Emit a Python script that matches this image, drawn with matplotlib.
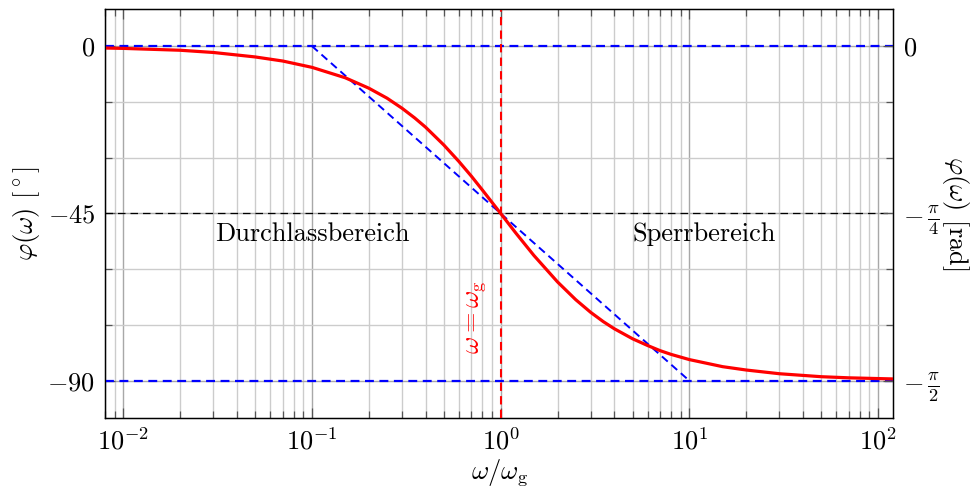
import numpy as np
import matplotlib
matplotlib.use('Agg')
import matplotlib.pyplot as plt
from matplotlib.ticker import LogLocator, NullFormatter, FixedLocator


# Phasengang
omega = [0.008, 0.01, 0.02, 0.03, 0.05, 0.07, 0.1, 0.15, 0.2, 0.25, 0.3, 0.35, 0.4, 0.5, 0.6, 0.7, 0.8,
		 1.0, 1.2, 1.5, 2.0, 2.5, 3.0, 3.5, 4.0, 5.0, 6.0, 7.0, 8.0, 10.0, 15.0, 20.0, 30.0, 50.0, 70.0, 100.0, 120.0]
phi_deg = [-0.5, -0.6, -1.1, -1.7, -2.9, -4.0, -5.7, -8.5, -11.3, -14.0, -16.7, -19.3, -21.8, -26.6, -31.0, -35.0, -38.7,
		   -45.0, -50.2, -56.3, -63.4, -68.2, -71.6, -74.1, -76.0, -78.7, -80.5, -81.9, -82.9, -84.3, -86.2, -87.1, -88.1, -88.9, -89.2, -89.4, -89.5]

# Asymptoten
asym_x = [0.1, 10.0]
asym_y = [0.0, -90.0]
omega_g = 1.0

# Achsenbeschriftung
left_ticks = [0, -45, -90]
left_labels = [r'$0$', r'$-45$', r'$-90$']
right_labels = [r'$0$', r'$-\,\frac{\pi}{4}$', r'$-\,\frac{\pi}{2}$']
minor_y = [0, -15, -30, -45, -60, -75, -90]


def main():
	plt.rcParams['font.family'] = 'serif'
	plt.rcParams['font.serif'] = ['cmr10']
	plt.rcParams['mathtext.fontset'] = 'cm'
	plt.rcParams['axes.formatter.use_mathtext'] = True
	plt.rcParams['font.size'] = 19

	fig = plt.figure(figsize=(9.76, 4.96), dpi=100)
	ax = fig.add_axes([0.1076, 0.1573, 0.8074, 0.8246])

	ax.set_xscale('log')
	ax.set_xlim(0.008, 120)
	ax.set_ylim(-100, 10)

	# Gitter
	ax.xaxis.set_major_locator(LogLocator(base=10, numticks=10))
	ax.xaxis.set_minor_locator(LogLocator(base=10, subs=np.arange(2, 10), numticks=100))
	ax.xaxis.set_minor_formatter(NullFormatter())
	ax.yaxis.set_major_locator(FixedLocator(left_ticks))
	ax.set_yticklabels(left_labels)
	ax.yaxis.set_minor_locator(FixedLocator(minor_y))
	ax.grid(True, which='major', color='#a8a8a8', lw=1.0)
	ax.grid(True, which='minor', color='#cccccc', lw=1.0)
	ax.set_axisbelow(True)

	ax.tick_params(which='both', direction='in', top=True, right=False, pad=7, color='#555555')
	ax.tick_params(which='major', length=7, width=0.9)
	ax.tick_params(which='minor', length=5, width=0.9)
	for s in ax.spines.values():
		s.set_linewidth(1.0)

	# Hilfslinien
	ax.axhline(0, color='blue', lw=1.6, ls=(0, (4, 2.5)), zorder=3)
	ax.axhline(-90, color='blue', lw=1.6, ls=(0, (4, 2.5)), zorder=3)
	ax.plot(asym_x, asym_y, color='blue', lw=1.4, ls=(0, (4, 2.5)), zorder=3)
	ax.axhline(-45, color='black', lw=0.9, ls=(0, (6, 4)), zorder=3)
	ax.axvline(omega_g, color='red', lw=1.5, ls=(0, (4, 2.5)), zorder=3)

	# Phasengang
	ax.plot(omega, phi_deg, color='red', lw=2.3, zorder=4)

	# Texte
	ax.text(0.1, -50.5, 'Durchlassbereich', ha='center', va='center')
	ax.text(12, -50.5, 'Sperrbereich', ha='center', va='center')
	ax.text(0.74, -73, r'$\omega = \omega_{\mathrm{g}}$', color='red', rotation=90,
			ha='center', va='center')

	ax.set_xlabel(r'$\omega/\omega_{\mathrm{g}}$')
	ax.xaxis.set_label_coords(0.501, -0.095)
	ax.set_ylabel(r'$\varphi(\omega)$ [$^\circ$]', va='center')
	ax.yaxis.set_label_coords(-0.1, 0.5)

	# rechte Achse in rad
	ax2 = ax.twinx()
	ax2.set_ylim(ax.get_ylim())
	ax2.yaxis.set_major_locator(FixedLocator(left_ticks))
	ax2.set_yticklabels(right_labels)
	ax2.yaxis.set_minor_locator(FixedLocator(minor_y))
	ax2.tick_params(which='both', direction='in', pad=7, color='#555555')
	ax2.tick_params(which='major', length=7, width=0.9)
	ax2.tick_params(which='minor', length=5, width=0.9)
	ax2.set_ylabel(r'$\varphi(\omega)$ [rad]', rotation=-90, va='center')
	ax2.yaxis.set_label_coords(1.079, 0.5)

	plt.savefig('out.png', dpi=100)


if __name__ == '__main__':
	main()
